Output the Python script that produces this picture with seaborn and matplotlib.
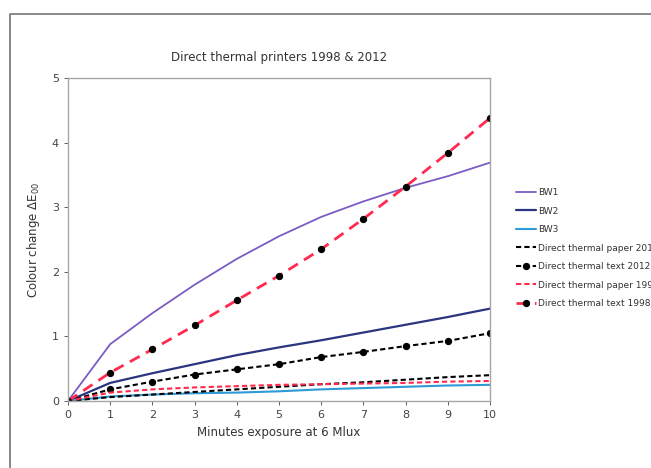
import matplotlib
matplotlib.use("Agg")
import matplotlib.pyplot as plt
from matplotlib.lines import Line2D
import seaborn as sns
import pandas as pd

# minutes of exposure at 6 Mlux
minutes = [0, 1, 2, 3, 4, 5, 6, 7, 8, 9, 10]

# colour change values
bw1 = [0, 0.88, 1.36, 1.80, 2.20, 2.55, 2.85, 3.09, 3.30, 3.48, 3.69]
bw2 = [0, 0.28, 0.43, 0.57, 0.71, 0.83, 0.94, 1.06, 1.18, 1.30, 1.43]
bw3 = [0, 0.07, 0.10, 0.12, 0.13, 0.15, 0.18, 0.20, 0.22, 0.24, 0.25]
paper_2012 = [0, 0.06, 0.10, 0.14, 0.18, 0.22, 0.26, 0.29, 0.33, 0.37, 0.40]
text_2012 = [0, 0.18, 0.30, 0.41, 0.49, 0.57, 0.68, 0.76, 0.85, 0.93, 1.05]
paper_1998 = [0, 0.13, 0.18, 0.21, 0.23, 0.25, 0.26, 0.27, 0.28, 0.30, 0.31]
text_1998 = [0, 0.44, 0.80, 1.17, 1.56, 1.94, 2.35, 2.82, 3.32, 3.84, 4.38]

series_names = ["BW1", "BW2", "BW3", "Direct thermal paper 2012",
                "Direct thermal text 2012", "Direct thermal paper 1998",
                "Direct thermal text 1998"]
series_values = [bw1, bw2, bw3, paper_2012, text_2012, paper_1998, text_1998]

RED = "#ff2a4d"
styles = {
    "BW1": dict(color="#7b5cc4", lw=1.3),
    "BW2": dict(color="#2b347f", lw=1.6),
    "BW3": dict(color="#2e9ad6", lw=1.5),
    "Direct thermal paper 2012": dict(color="black", lw=1.5, dashes=(2.5, 1.5)),
    "Direct thermal text 2012": dict(color="black", lw=1.5, dashes=(2.5, 1.5),
                                     marker="o", markersize=4.5, mfc="black", mec="black"),
    "Direct thermal paper 1998": dict(color=RED, lw=1.5, dashes=(2.5, 1.5)),
    "Direct thermal text 1998": dict(color=RED, lw=2.0, dashes=(4, 2.6),
                                     marker="o", markersize=4.5, mfc="black", mec="black"),
}

#---------------------------------------------------------------------------------------------------------
# Plot the line chart
#---------------------------------------------------------------------------------------------------------
def plotChart():
    sns.set_style("white")
    plt.rcParams["font.family"] = ["DejaVu Sans"]
    fig = plt.figure(figsize=(6.51, 4.68), dpi=100)
    ax = fig.add_axes([68 / 651, 1 - 401 / 468, 422 / 651, 323 / 468])

    for name, vals in zip(series_names, series_values):
        df = pd.DataFrame({"x": minutes, "y": vals})
        st = dict(styles[name])
        dashes = st.pop("dashes", None)
        sns.lineplot(data=df, x="x", y="y", ax=ax, label=name, **st)
        if dashes is not None:
            ax.lines[-1].set_dashes(dashes)

    ax.set_xlim(0, 10)
    ax.set_ylim(0, 5)
    ax.set_xticks(range(0, 11))
    ax.set_yticks(range(0, 6))
    ax.tick_params(axis="both", labelsize=8, colors="#444444", length=3,
                   direction="out", left=True, bottom=True, width=0.6)
    for s in ax.spines.values():
        s.set_color("#a6a6a6")
        s.set_linewidth(1.0)

    ax.set_title("Direct thermal printers 1998 & 2012", fontsize=8.5,
                 color="#333333", pad=12)
    ax.set_xlabel("Minutes exposure at 6 Mlux", fontsize=8.5, color="#333333")
    ax.set_ylabel("Colour change ΔE$_{00}$", fontsize=8.5, color="#333333", labelpad=7)

    ax.get_legend().remove()
    handles, labels = ax.get_legend_handles_labels()
    fig.legend(handles, labels, loc="upper left",
               bbox_to_anchor=(508 / 651, 1 - 180 / 468), frameon=False,
               fontsize=6.5, handlelength=2.2, handletextpad=0.2,
               labelspacing=1.05, labelcolor="#333333")

    # outer border of the chart area
    fig.add_artist(Line2D([9.5 / 651, 9.5 / 651, 1.0], [0, 1 - 13.5 / 468, 1 - 13.5 / 468],
                          transform=fig.transFigure, color="#7f7f7f", lw=1.3))

    fig.savefig("out.png", dpi=100)


def main():
    plotChart()


if __name__ == "__main__":
    main()
